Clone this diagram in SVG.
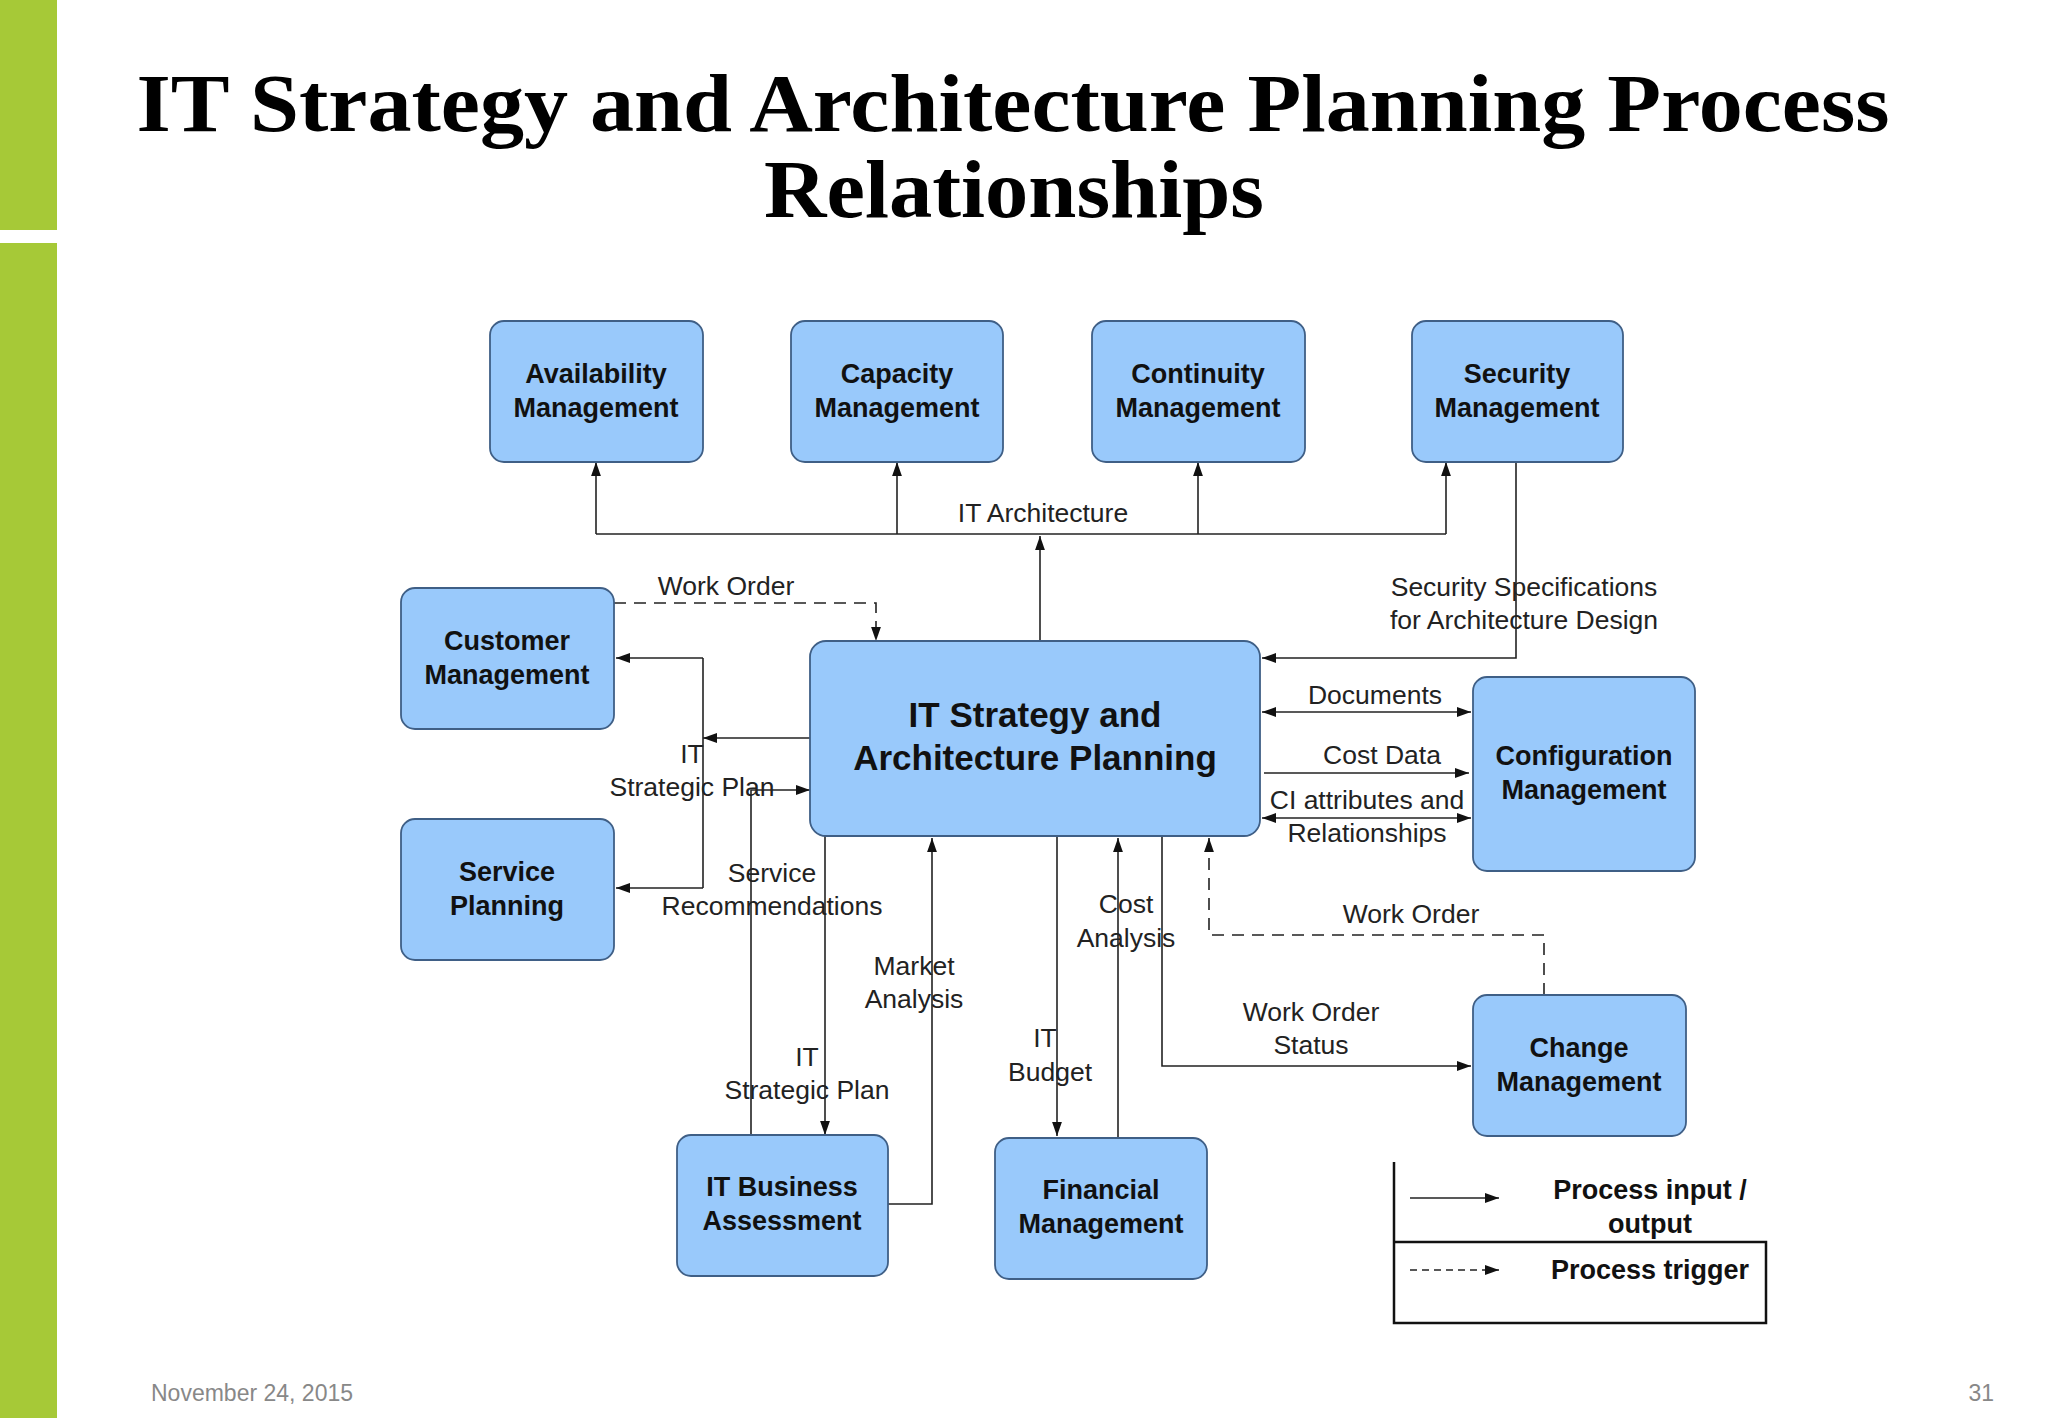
<svg xmlns="http://www.w3.org/2000/svg" width="2048" height="1418" viewBox="0 0 2048 1418">
<style>
.box{fill:#99c9fb;stroke:#3f5f86;stroke-width:1.8}
.bt{font-family:"Liberation Sans",Arial,sans-serif;font-weight:bold;font-size:27px;fill:#111;text-anchor:middle}
.lt{font-family:"Liberation Sans",Arial,sans-serif;font-size:26.5px;fill:#222;text-anchor:middle}
.ln{fill:none;stroke:#222;stroke-width:1.6}
.ds{stroke-dasharray:12 8}
</style>
<defs>
<marker id="a" viewBox="0 0 10 10" refX="10" refY="5" markerWidth="14" markerHeight="14" markerUnits="userSpaceOnUse" orient="auto-start-reverse"><path d="M0,1.5 L10,5 L0,8.5 z" fill="#111"/></marker>
<marker id="b" viewBox="0 0 10 10" refX="10" refY="5" markerWidth="14" markerHeight="14" markerUnits="userSpaceOnUse" orient="auto-start-reverse"><path d="M0,1.5 L10,5 L0,8.5 z" fill="#111"/></marker>
</defs>
<rect x="0" y="0" width="2048" height="1418" fill="#fff"/>
<rect x="0" y="0" width="57" height="230" fill="#a6c937"/>
<rect x="0" y="243" width="57" height="1175" fill="#a6c937"/>
<text x="1013" y="131" font-family="Liberation Serif,serif" font-weight="bold" font-size="82" text-anchor="middle" textLength="1753" lengthAdjust="spacingAndGlyphs">IT Strategy and Architecture Planning Process</text>
<text x="1014" y="217" font-family="Liberation Serif,serif" font-weight="bold" font-size="82" text-anchor="middle" textLength="500" lengthAdjust="spacingAndGlyphs">Relationships</text>

<g id="connectors">
<path class="ln" d="M596,534 H1446"/>
<path class="ln" d="M596,534 V462" marker-end="url(#a)"/>
<path class="ln" d="M897,534 V462" marker-end="url(#a)"/>
<path class="ln" d="M1198,534 V462" marker-end="url(#a)"/>
<path class="ln" d="M1446,534 V462" marker-end="url(#a)"/>
<path class="ln" d="M1040,641 V536" marker-end="url(#a)"/>
<text class="lt" x="1043" y="522">IT Architecture</text>
<path class="ln" d="M1516,462 V658 H1262" marker-end="url(#a)"/>
<text class="lt" x="1524" y="596">Security Specifications</text>
<text class="lt" x="1524" y="629">for Architecture Design</text>
<path class="ln ds" d="M614,603 H876 V641" marker-end="url(#a)"/>
<text class="lt" x="726" y="595">Work Order</text>
<path class="ln" d="M810,738 H703" marker-end="url(#a)"/>
<path class="ln" d="M703,658 V888"/>
<path class="ln" d="M703,658 H616" marker-end="url(#a)"/>
<path class="ln" d="M703,888 H616" marker-end="url(#a)"/>
<text class="lt" x="692" y="763">IT</text>
<text class="lt" x="692" y="796">Strategic Plan</text>
<path class="ln" d="M751,1135 V790 H810" marker-end="url(#a)"/>
<text class="lt" x="772" y="882">Service</text>
<text class="lt" x="772" y="915">Recommendations</text>
<path class="ln" d="M825,836 V1135" marker-end="url(#a)"/>
<text class="lt" x="807" y="1066">IT</text>
<text class="lt" x="807" y="1099">Strategic Plan</text>
<path class="ln" d="M888,1204 H932 V838" marker-end="url(#a)"/>
<text class="lt" x="914" y="975">Market</text>
<text class="lt" x="914" y="1008">Analysis</text>
<path class="ln" d="M1057,836 V1136" marker-end="url(#a)"/>
<text class="lt" x="1045" y="1047">IT</text>
<text class="lt" x="1050" y="1081">Budget</text>
<path class="ln" d="M1118,1138 V838" marker-end="url(#a)"/>
<text class="lt" x="1126" y="913">Cost</text>
<text class="lt" x="1126" y="947">Analysis</text>
<path class="ln" d="M1162,836 V1066 H1471" marker-end="url(#a)"/>
<text class="lt" x="1311" y="1021">Work Order</text>
<text class="lt" x="1311" y="1054">Status</text>
<path class="ln ds" d="M1544,995 V935 H1209 V838" marker-end="url(#a)"/>
<text class="lt" x="1411" y="923">Work Order</text>
<path class="ln" d="M1262,712 H1471" marker-start="url(#a)" marker-end="url(#a)"/>
<text class="lt" x="1375" y="704">Documents</text>
<path class="ln" d="M1264,773 H1469" marker-end="url(#a)"/>
<text class="lt" x="1382" y="764">Cost Data</text>
<path class="ln" d="M1262,818 H1471" marker-start="url(#a)" marker-end="url(#a)"/>
<text class="lt" x="1367" y="809">CI attributes and</text>
<text class="lt" x="1367" y="842">Relationships</text>
</g>

<g id="availability"><rect class="box" x="490" y="321" width="213" height="141" rx="14"/><text class="bt" x="596" y="383">Availability</text><text class="bt" x="596" y="417">Management</text></g>
<g id="capacity"><rect class="box" x="791" y="321" width="212" height="141" rx="14"/><text class="bt" x="897" y="383">Capacity</text><text class="bt" x="897" y="417">Management</text></g>
<g id="continuity"><rect class="box" x="1092" y="321" width="213" height="141" rx="14"/><text class="bt" x="1198" y="383">Continuity</text><text class="bt" x="1198" y="417">Management</text></g>
<g id="security"><rect class="box" x="1412" y="321" width="211" height="141" rx="14"/><text class="bt" x="1517" y="383">Security</text><text class="bt" x="1517" y="417">Management</text></g>
<g id="customer"><rect class="box" x="401" y="588" width="213" height="141" rx="14"/><text class="bt" x="507" y="650">Customer</text><text class="bt" x="507" y="684">Management</text></g>
<g id="service"><rect class="box" x="401" y="819" width="213" height="141" rx="14"/><text class="bt" x="507" y="881">Service</text><text class="bt" x="507" y="915">Planning</text></g>
<g id="itstrategy"><rect class="box" x="810" y="641" width="450" height="195" rx="16"/><text class="bt" x="1035" y="727" style="font-size:35px">IT Strategy and</text><text class="bt" x="1035" y="770" style="font-size:35px">Architecture Planning</text></g>
<g id="configuration"><rect class="box" x="1473" y="677" width="222" height="194" rx="14"/><text class="bt" x="1584" y="765">Configuration</text><text class="bt" x="1584" y="799">Management</text></g>
<g id="change"><rect class="box" x="1473" y="995" width="213" height="141" rx="14"/><text class="bt" x="1579" y="1057">Change</text><text class="bt" x="1579" y="1091">Management</text></g>
<g id="itbusiness"><rect class="box" x="677" y="1135" width="211" height="141" rx="14"/><text class="bt" x="782" y="1196">IT Business</text><text class="bt" x="782" y="1230">Assessment</text></g>
<g id="financial"><rect class="box" x="995" y="1138" width="212" height="141" rx="14"/><text class="bt" x="1101" y="1199">Financial</text><text class="bt" x="1101" y="1233">Management</text></g>

<g id="legend">
<path d="M1394,1162 V1323 H1766 V1242 H1394" fill="none" stroke="#111" stroke-width="2.5"/>
<path class="ln" d="M1410,1198 H1499" marker-end="url(#b)"/>
<path class="ln" d="M1410,1270 H1499" stroke-dasharray="7 5" marker-end="url(#b)"/>
<text class="bt" x="1650" y="1199">Process input /</text>
<text class="bt" x="1650" y="1233">output</text>
<text class="bt" x="1650" y="1279">Process trigger</text>
</g>
<text x="151" y="1401" font-family="Liberation Sans,Arial,sans-serif" font-size="23" fill="#888">November 24, 2015</text>
<text x="1994" y="1401" font-family="Liberation Sans,Arial,sans-serif" font-size="23" fill="#888" text-anchor="end">31</text>
</svg>
